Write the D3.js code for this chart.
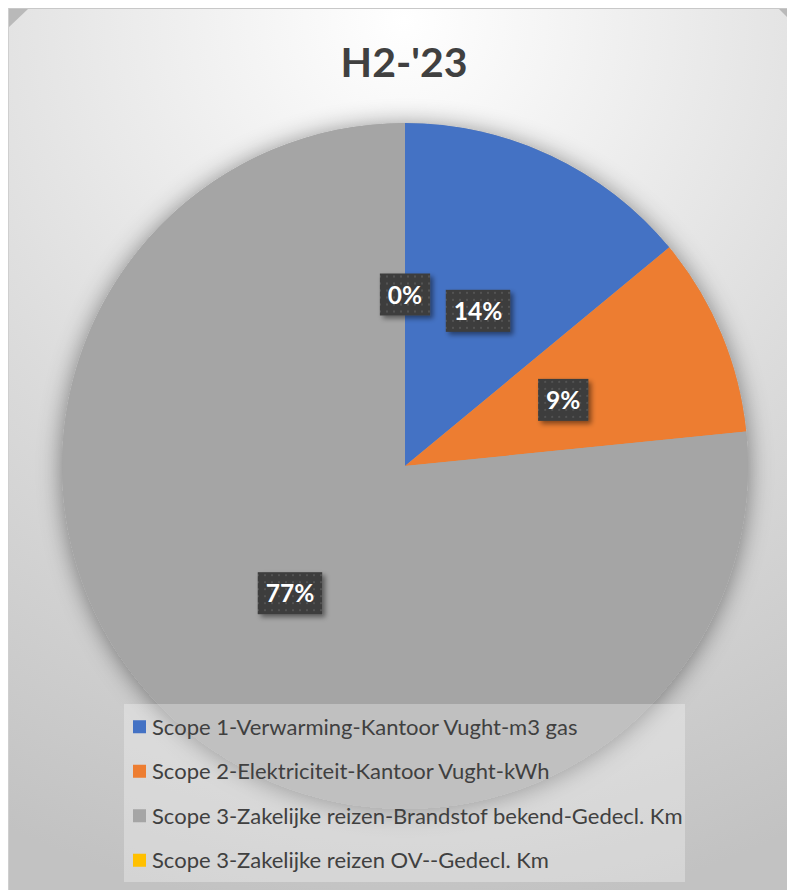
<!DOCTYPE html>
<html>
<head>
<meta charset="utf-8">
<script src="https://cdn.jsdelivr.net/npm/d3@7/dist/d3.min.js"></script>
<style>
  html, body { margin: 0; padding: 0; background: #fff; }
  svg { display: block; }
</style>
</head>
<body>
<div id="chart"></div>
<script>
// Pie: H2-'23 emissions share by scope
const categories = [
  "Scope 1-Verwarming-Kantoor Vught-m3 gas",
  "Scope 2-Elektriciteit-Kantoor Vught-kWh",
  "Scope 3-Zakelijke reizen-Brandstof bekend-Gedecl. Km",
  "Scope 3-Zakelijke reizen OV--Gedecl. Km",
];
const shares = [14.0, 9.4, 76.6, 0.0];
const colors = ["#4472C4", "#ED7D31", "#A5A5A5", "#FFC000"];
const title = "H2-'23";

const W = 787, H = 890;
const CX = 405, CY = 466, R = 343;

const svg = d3.select("#chart").append("svg")
  .attr("width", W).attr("height", H)
  .attr("viewBox", `0 0 ${W} ${H}`);

const defs = svg.append("defs");

// background radial fill (white top-centre fading to grey)
const bg = defs.append("radialGradient").attr("id", "bg")
  .attr("gradientUnits", "userSpaceOnUse")
  .attr("cx", 404).attr("cy", 20).attr("r", 900);
bg.append("stop").attr("offset", "0%").attr("stop-color", "#ffffff");
bg.append("stop").attr("offset", "55%").attr("stop-color", "#dcdcdc");
bg.append("stop").attr("offset", "100%").attr("stop-color", "#c2c2c2");

// soft glow behind the pie
const glow = defs.append("filter").attr("id", "glow")
  .attr("x", "-20%").attr("y", "-20%").attr("width", "140%").attr("height", "140%");
glow.append("feDropShadow").attr("dx", 0).attr("dy", 2)
  .attr("stdDeviation", 12).attr("flood-color", "#000").attr("flood-opacity", 0.45);

// label box shadow
const boxShadow = defs.append("filter").attr("id", "boxShadow")
  .attr("x", "-30%").attr("y", "-30%").attr("width", "170%").attr("height", "170%");
boxShadow.append("feDropShadow").attr("dx", 3).attr("dy", 3)
  .attr("stdDeviation", 2.5).attr("flood-color", "#000").attr("flood-opacity", 0.45);

// dotted fill for data labels
const dots = defs.append("pattern").attr("id", "dots")
  .attr("patternUnits", "userSpaceOnUse").attr("width", 7).attr("height", 7);
dots.append("rect").attr("width", 7).attr("height", 7).attr("fill", "#3c3c3c");
dots.append("rect").attr("x", 2).attr("y", 2).attr("width", 2).attr("height", 2).attr("fill", "#535353");

// panel with chamfered top corners on a grey frame
svg.append("rect").attr("x", 8).attr("y", 8).attr("width", W - 8).attr("height", H - 8)
  .attr("fill", "#b9b9b9");
const ch = 20;
svg.append("path")
  .attr("d", `M${8},${8 + ch} L${8 + ch},${9} L${W + 12 - ch},${9} L${W + 12},${9 + ch} L${W + 12},${H} L${9},${H} Z`)
  .attr("fill", "url(#bg)");
svg.append("line").attr("x1", 8).attr("x2", W).attr("y1", 8.5).attr("y2", 8.5)
  .attr("stroke", "#c8c8c8");
svg.append("line").attr("x1", 8.5).attr("x2", 8.5).attr("y1", 8).attr("y2", H)
  .attr("stroke", "#cfcfcf");

// title
svg.append("text")
  .attr("x", 404).attr("y", 77)
  .attr("text-anchor", "middle")
  .attr("font-family", "Lato, 'Open Sans', sans-serif")
  .attr("font-weight", 700)
  .attr("font-size", 41)
  .attr("fill", "#404040")
  .text(title);

// pie
const pie = d3.pie().sort(null).value((d) => d.v)
  .startAngle(0).endAngle(2 * Math.PI);
const data = categories.map((c, i) => ({ name: c, v: shares[i], color: colors[i] }));
const arcs = pie(data);
const arc = d3.arc().innerRadius(0).outerRadius(R);
const labelArc = d3.arc().innerRadius(R * 0.5).outerRadius(R * 0.5);

const gPie = svg.append("g").attr("transform", `translate(${CX},${CY})`);
gPie.append("circle").attr("r", R).attr("fill", "#a5a5a5").attr("filter", "url(#glow)");
gPie.selectAll("path.slice")
  .data(arcs)
  .join("path")
  .attr("class", "slice")
  .attr("d", arc)
  .attr("fill", (d) => d.data.color);

// legend box
const legX = 124, legY = 704, legW = 561, legH = 178;
const gLeg = svg.append("g");
gLeg.append("rect")
  .attr("x", legX).attr("y", legY).attr("width", legW).attr("height", legH)
  .attr("fill", "#ffffff").attr("fill-opacity", 0.3);

const rowY = d3.scaleBand().domain(categories).range([legY, legY + legH]);
const rows = gLeg.selectAll("g.leg-row")
  .data(data)
  .join("g")
  .attr("class", "leg-row")
  .attr("transform", (d) => `translate(${legX + 9},${rowY(d.name) + rowY.bandwidth() / 2 + 1})`);
rows.append("rect")
  .attr("x", 0).attr("y", -7).attr("width", 13).attr("height", 13)
  .attr("fill", (d) => d.color);
rows.append("text")
  .attr("x", 19).attr("y", 7.5)
  .attr("font-family", "Lato, 'Open Sans', sans-serif")
  .attr("font-size", 22)
  .attr("fill", "#404040")
  .text((d) => d.name);

// data labels (drawn over the legend like the original)
const gLab = svg.append("g").attr("transform", `translate(${CX},${CY})`);
const labs = gLab.selectAll("g.lab")
  .data(arcs)
  .join("g")
  .attr("class", "lab")
  .attr("transform", (d) => `translate(${labelArc.centroid(d)})`);
labs.each(function (d) {
  const g = d3.select(this);
  const t = g.append("text")
    .attr("text-anchor", "middle")
    .attr("y", 9)
    .attr("font-family", "Lato, 'Open Sans', sans-serif")
    .attr("font-weight", 700)
    .attr("font-size", 24.5)
    .attr("fill", "#ffffff")
    .text(`${Math.round(d.data.v)}%`);
  const bb = t.node().getBBox();
  g.insert("rect", "text")
    .attr("x", -bb.width / 2 - 8).attr("y", -21)
    .attr("width", bb.width + 16).attr("height", 42)
    .attr("fill", "url(#dots)")
    .attr("filter", "url(#boxShadow)");
});
</script>
</body>
</html>
